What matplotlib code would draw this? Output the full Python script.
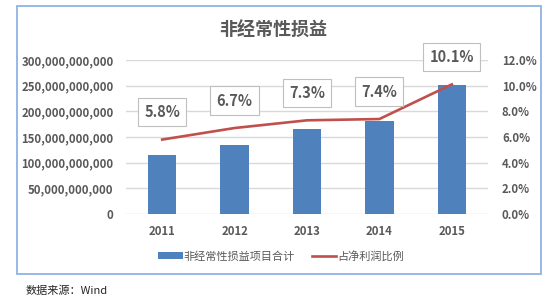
import matplotlib
matplotlib.use('Agg')
import matplotlib.pyplot as plt
from matplotlib.patches import Rectangle
from matplotlib.ticker import FuncFormatter

plt.rcParams['font.family'] = ['Noto Sans CJK SC', 'DejaVu Sans']

years = ['2011', '2012', '2013', '2014', '2015']
nonrecurring = [115e9, 135e9, 166e9, 182e9, 251e9]   # 非经常性损益项目合计
ratio = [0.058, 0.067, 0.073, 0.074, 0.101]          # 占净利润比例
ratio_labels = ['5.8%', '6.7%', '7.3%', '7.4%', '10.1%']

gray = '#595959'
blue = '#4F81BD'
red = '#C0504D'

W, H = 555, 297
fig = plt.figure(figsize=(W / 100, H / 100), dpi=100)

# outer frame
fig.patches.append(Rectangle((17 / W, 1 - 274 / H), (541 - 17) / W, (274 - 6) / H,
                             transform=fig.transFigure, fill=False,
                             edgecolor='#8DB3E2', lw=1.3))

ax = fig.add_axes([126 / W, 1 - 214 / H, (488 - 126) / W, (214 - 60) / H])
ax2 = ax.twinx()

x = list(range(len(years)))
bars = ax.bar(x, nonrecurring, width=0.39, color=blue, zorder=2,
              label='非经常性损益项目合计')
line, = ax2.plot(x, ratio, color=red, lw=1.9, zorder=3, label='占净利润比例')

ax.set_xlim(-0.5, len(years) - 0.5)
ax.set_ylim(0, 300e9)
ax.set_yticks([i * 50e9 for i in range(7)])
ax.yaxis.set_major_formatter(FuncFormatter(lambda v, _: f'{v:,.0f}'))
ax2.set_ylim(0, 0.12)
ax2.set_yticks([i * 0.02 for i in range(7)])
ax2.yaxis.set_major_formatter(FuncFormatter(lambda v, _: f'{v:.1%}'))

ax.set_xticks(x)
ax.set_xticklabels(years)
ax.grid(axis='y', color='#D9D9D9', lw=1, zorder=0)
for a in (ax, ax2):
    for s in a.spines.values():
        s.set_visible(False)
    a.tick_params(length=0, labelsize=8.2, labelcolor=gray)
    for t in a.get_xticklabels() + a.get_yticklabels():
        t.set_fontweight('bold')
ax.tick_params(axis='y', pad=9)
ax2.tick_params(axis='y', pad=10)
ax.tick_params(axis='x', pad=8)

for xi, yi, lab in zip(x, ratio, ratio_labels):
    ax2.annotate(lab, (xi, yi), xytext=(0, 14), textcoords='offset points',
                 ha='center', va='bottom', fontsize=10.5, color=gray, fontweight='bold',
                 bbox=dict(boxstyle='square,pad=0.42', fc='white', ec='#BFBFBF', lw=0.8),
                 zorder=5)

fig.text(273.5 / W, 1 - 30 / H, '非经常性损益', ha='center', va='center',
         fontsize=13, color=gray, fontweight='bold')

fig.legend([bars, line], ['非经常性损益项目合计', '占净利润比例'],
           loc='center', bbox_to_anchor=(281 / W, 1 - 256 / H), ncol=2, frameon=False,
           fontsize=8, labelcolor=gray, handlelength=2.2, handleheight=0.5,
           handletextpad=0.1, columnspacing=1.5)

fig.text(26 / W, 1 - 291 / H, '数据来源：Wind', ha='left', va='center',
         fontsize=8, color='#262626')

fig.savefig('out.png', dpi=100)
